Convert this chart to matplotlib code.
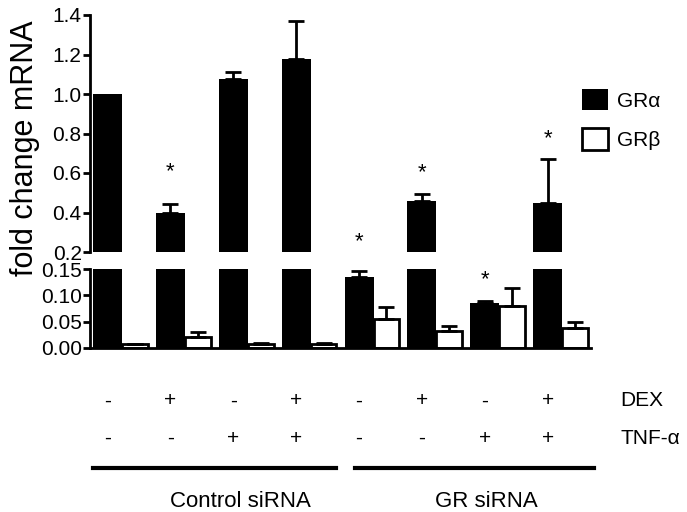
import numpy as np
import matplotlib
matplotlib.use('Agg')
import matplotlib.pyplot as plt
from matplotlib import transforms
from matplotlib.patches import Patch

plt.rcParams['font.family'] = ['Liberation Sans', 'DejaVu Sans']

##DATOS
groups = np.arange(8)
gr_alpha = [1.0, 0.396, 1.074, 1.177, 0.136, 0.458, 0.085, 0.45]
gr_alpha_err = [0.0, 0.047, 0.036, 0.193, 0.011, 0.034, 0.004, 0.219]
gr_beta = [0.0065, 0.021, 0.007, 0.007, 0.055, 0.031, 0.080, 0.037]
gr_beta_err = [0.0015, 0.0085, 0.002, 0.002, 0.023, 0.011, 0.035, 0.012]
dex = ['-', '+', '-', '+', '-', '+', '-', '+']
tnf = ['-', '-', '+', '+', '-', '-', '+', '+']
star_upper_idx = [1, 4, 5, 7]
star_upper_y = [0.625, 0.272, 0.62, 0.792]
star_lower_idx = [6]
star_lower_y = [0.136]
sirna_labels = ['Control siRNA', 'GR siRNA']
sirna_span = [(-0.46, 3.4), (3.7, 7.5)]
sirna_text_x = [1.88, 5.79]

W, H = 687, 512
fig = plt.figure(figsize=(W / 100, H / 100), dpi=100)
left = 90 / W
width = (591 - 90) / W
ax_up = fig.add_axes([left, 1 - 252 / H, width, (252 - 15) / H])
ax_lo = fig.add_axes([left, 1 - 347.7 / H, width, (347.7 - 269.3) / H])

BW_A = 0.46
BW_B = 0.41
LW = 2.0
FS = 15

# sin barra de error donde no hay error (control normalizado)
a_err = np.array(gr_alpha_err)
has_err = a_err > 0

for ax in (ax_up, ax_lo):
    ax.bar(groups, gr_alpha, width=-BW_A, align='edge', color='black', edgecolor='black', linewidth=0)
    ax.errorbar((groups - BW_A / 2)[has_err], np.array(gr_alpha)[has_err],
                yerr=[np.zeros(has_err.sum()), a_err[has_err]], fmt='none',
                ecolor='black', elinewidth=LW, capsize=6, capthick=LW)
    ax.bar(groups, gr_beta, width=BW_B, align='edge', color='white', edgecolor='black', linewidth=LW)
    ax.errorbar(groups + BW_B / 2, gr_beta, yerr=[np.zeros(8), gr_beta_err], fmt='none',
                ecolor='black', elinewidth=LW, capsize=6, capthick=LW)
    ax.set_xlim(-0.51, 7.46)
    ax.spines['top'].set_visible(False)
    ax.spines['right'].set_visible(False)
    ax.spines['left'].set_linewidth(2)
    ax.spines['bottom'].set_linewidth(2)
    ax.tick_params(axis='y', length=5, width=2, labelsize=FS, pad=1)
    ax.tick_params(axis='x', bottom=False, labelbottom=False)

ax_up.set_ylim(0.2, 1.4)
ax_up.set_yticks([0.2, 0.4, 0.6, 0.8, 1.0, 1.2, 1.4])
ax_up.set_yticklabels(['%.1f' % v for v in [0.2, 0.4, 0.6, 0.8, 1.0, 1.2, 1.4]])
ax_up.spines['bottom'].set_visible(False)

ax_lo.set_ylim(0, 0.15)
ax_lo.set_yticks([0.0, 0.05, 0.10, 0.15])
ax_lo.set_yticklabels(['%.2f' % v for v in [0.0, 0.05, 0.10, 0.15]])

for i, y in zip(star_upper_idx, star_upper_y):
    ax_up.annotate('*', (i - BW_A / 2, y), xytext=(0, -6.5), textcoords='offset points',
                   ha='center', va='baseline', fontsize=16)
for i, y in zip(star_lower_idx, star_lower_y):
    ax_lo.annotate('*', (i - BW_A / 2, y), xytext=(0, -6.5), textcoords='offset points',
                   ha='center', va='baseline', fontsize=16)

##TABLA DE TRATAMIENTOS
tr = transforms.blended_transform_factory(ax_lo.transData, fig.transFigure)
y_dex = 1 - 406.5 / H
y_tnf = 1 - 444 / H
for i in groups:
    fig.text(i - BW_A / 2, y_dex, dex[i], transform=tr, ha='center', va='baseline', fontsize=FS)
    fig.text(i - BW_A / 2, y_tnf, tnf[i], transform=tr, ha='center', va='baseline', fontsize=FS)
fig.text(7.93, y_dex, 'DEX', transform=tr, ha='left', va='baseline', fontsize=FS)
fig.text(7.93, y_tnf, 'TNF-α', transform=tr, ha='left', va='baseline', fontsize=FS)

y_line = 1 - 468 / H
for lab, (x0, x1), xt in zip(sirna_labels, sirna_span, sirna_text_x):
    ax_lo.plot([x0, x1], [y_line, y_line], color='black', linewidth=3, transform=tr, clip_on=False)
    fig.text(xt, 1 - 506.7 / H, lab, transform=tr, ha='center', va='baseline', fontsize=16)

fig.text(25 / W, 1 - 148 / H, 'fold change mRNA', rotation=90, ha='center', va='center', fontsize=22)

handles = [Patch(facecolor='black', edgecolor='black', linewidth=0),
           Patch(facecolor='white', edgecolor='black', linewidth=LW)]
fig.legend(handles, ['GRα', 'GRβ'], loc='upper left', bbox_to_anchor=(582 / W, 1 - 89 / H),
           frameon=False, fontsize=FS, handlelength=1.25, handleheight=1.2,
           handletextpad=0.45, labelspacing=0.85, borderpad=0, borderaxespad=0)

fig.savefig('out.png', dpi=100)
